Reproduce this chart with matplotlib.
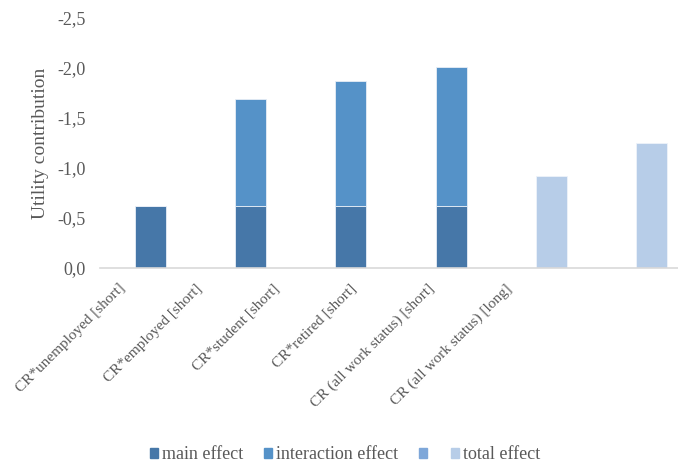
import matplotlib.pyplot as plt
from matplotlib.patches import Patch
from matplotlib.ticker import FuncFormatter
import matplotlib.transforms as mtransforms
import numpy as np

plt.rcParams['font.family'] = ['Liberation Serif', 'DejaVu Serif']

categories = ["CR*unemployed [short]", "CR*employed [short]", "CR*student [short]",
              "CR*retired [short]", "CR (all work status) [short]", "CR (all work status) [long]"]
main_effect = [-0.62, -0.62, -0.62, -0.62, 0.0, 0.0]
interaction_effect = [0.0, -1.07, -1.25, -1.39, 0.0, 0.0]
total_effect = [0.0, 0.0, 0.0, 0.0, -0.92, -1.25]

c_main = '#4677a8'
c_inter = '#5592c8'
c_extra = '#7ea7d9'
c_total = '#b7cde8'
grey = '#595959'

fig = plt.figure(figsize=(6.78, 4.67), dpi=100)
ax = fig.add_axes([100 / 678, 199 / 467, 578 / 678, 250 / 467])

x = np.arange(len(categories))
w = 0.31
ax.bar(x, main_effect, w, color=c_main, edgecolor='#e8eef6', linewidth=0.6)
ax.bar(x, interaction_effect, w, bottom=main_effect, color=c_inter, edgecolor='#e8eef6', linewidth=0.6)
ax.bar(x, total_effect, w, color=c_total, edgecolor='#eef3fa', linewidth=0.6)

ax.set_ylim(0, -2.5)
ax.set_yticks(np.arange(0, -2.51, -0.5))
ax.yaxis.set_major_formatter(FuncFormatter(lambda v, p: f"{v:.1f}".replace('.', ',').replace('-0,0', '0,0')))
ax.set_xlim(-0.5, 5.26)
ax.set_xticks(x)
ax.set_xticklabels([])

# category labels sit on a tighter pitch than the bars
trans = mtransforms.blended_transform_factory(ax.transData, ax.transAxes)
for i, name in enumerate(categories):
    ax.text(-0.32 + 0.77 * i, -0.055, name, transform=trans, rotation=45,
            ha='right', va='top', rotation_mode='anchor', fontsize=11, color=grey)

ax.tick_params(axis='both', length=0, labelsize=13, labelcolor=grey)
ax.tick_params(axis='y', pad=10)
for s in ['top', 'right', 'left']:
    ax.spines[s].set_visible(False)
ax.spines['bottom'].set_color('#d9d9d9')
ax.spines['bottom'].set_linewidth(1.2)

ax.set_ylabel("Utility contribution", fontsize=14, color=grey, labelpad=6)

handles = [Patch(color=c_main), Patch(color=c_inter), Patch(color=c_extra), Patch(color=c_total)]
labels = ["main effect", "interaction effect", "", "total effect"]
fig.legend(handles, labels, loc='center', bbox_to_anchor=(0.509, 0.026), ncol=4, frameon=False,
           fontsize=13, labelcolor=grey, handlelength=0.45, handleheight=0.45,
           handletextpad=0.2, columnspacing=1.15, borderpad=0)

fig.savefig("out.png", dpi=100)
